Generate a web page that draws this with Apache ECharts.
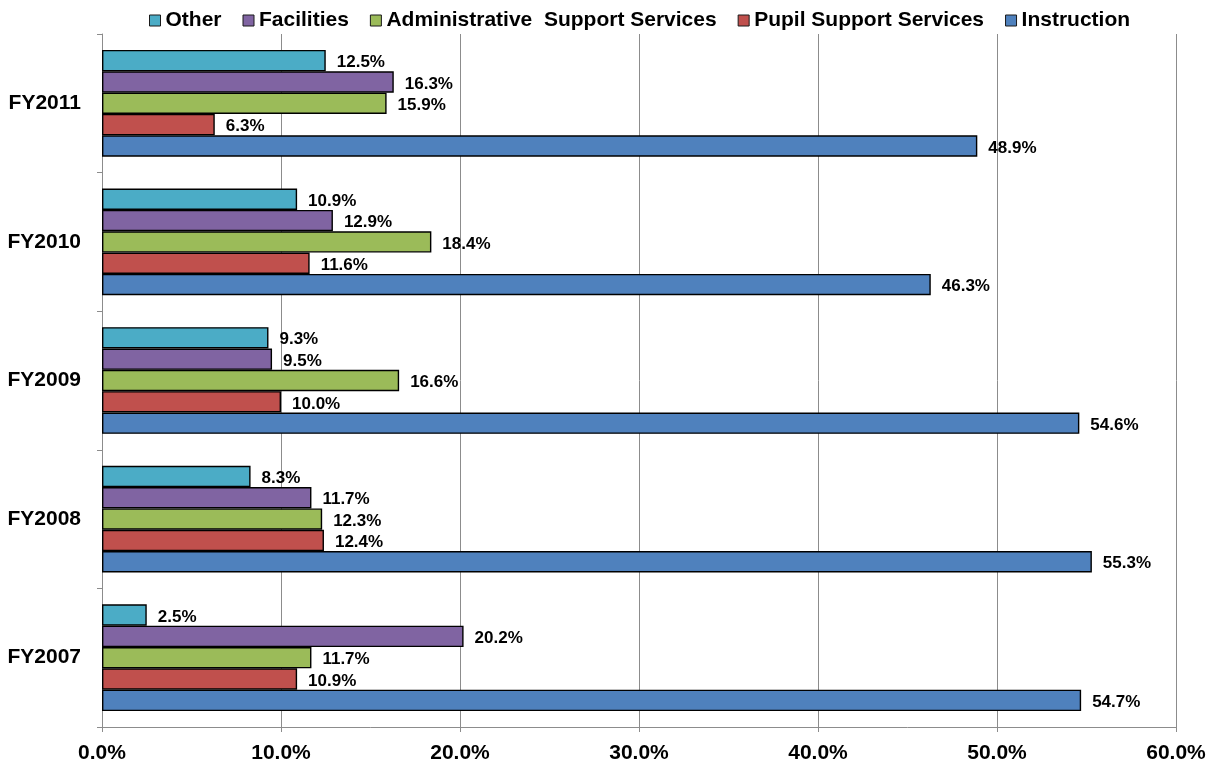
<!DOCTYPE html>
<html>
<head>
<meta charset="utf-8">
<script src="https://cdn.jsdelivr.net/npm/echarts@6/dist/echarts.min.js"></script>
<style>
  html, body { margin: 0; padding: 0; background: #fff; }
  #chart { width: 1217px; height: 769px; }
</style>
</head>
<body>
<div id="chart"></div>
<script>
// Fiscal years, listed bottom to top on the category axis
const years = ['FY2007', 'FY2008', 'FY2009', 'FY2010', 'FY2011'];

// Share of spending per function (%), one value per fiscal year
const other          = [2.5, 8.3, 9.3, 10.9, 12.5];
const facilities     = [20.2, 11.7, 9.5, 12.9, 16.3];
const adminSupport   = [11.7, 12.3, 16.6, 18.4, 15.9];
const pupilSupport   = [10.9, 12.4, 10.0, 11.6, 6.3];
const instruction    = [54.7, 55.3, 54.6, 46.3, 48.9];

// Series listed top to bottom within each year group
const seriesNames = ['Other', 'Facilities', 'Administrative  Support Services', 'Pupil Support Services', 'Instruction'];
const seriesData  = [other, facilities, adminSupport, pupilSupport, instruction];
const seriesColors = ['#4BACC6', '#8064A2', '#9BBB59', '#C0504D', '#4F81BD'];

const FONT = '"Liberation Sans", Arial, sans-serif';

const chart = echarts.init(document.getElementById('chart'), null, { renderer: 'canvas' });

chart.setOption({
  animation: false,
  backgroundColor: '#ffffff',
  textStyle: { fontFamily: FONT },
  legend: {
    data: seriesNames,
    top: 5,
    left: 144,
    itemWidth: 11,
    itemHeight: 11,
    itemGap: 21,
    icon: 'rect',
    itemStyle: { borderColor: '#1a1a1a', borderWidth: 1 },
    textStyle: { fontFamily: FONT, fontSize: 21, fontWeight: 'bold', color: '#000' }
  },
  grid: { left: 102, right: 41, top: 34, bottom: 42, containLabel: false },
  xAxis: {
    type: 'value',
    min: 0,
    max: 60,
    interval: 10,
    axisLine: { show: true, lineStyle: { color: '#8c8c8c', width: 1 } },
    axisTick: { show: true, length: 5, lineStyle: { color: '#8c8c8c' } },
    splitLine: { show: true, lineStyle: { color: '#8c8c8c', width: 1 } },
    axisLabel: {
      formatter: v => v.toFixed(1) + '%',
      margin: 16,
      fontFamily: FONT, fontSize: 21, fontWeight: 'bold', color: '#000'
    }
  },
  yAxis: {
    type: 'category',
    data: years,
    axisLine: { show: true, lineStyle: { color: '#8c8c8c', width: 1 } },
    axisTick: { show: true, length: 5, lineStyle: { color: '#8c8c8c' } },
    axisLabel: {
      margin: 21,
      fontFamily: FONT, fontSize: 21, fontWeight: 'bold', color: '#000'
    }
  },
  series: seriesNames.map((name, i) => ({
    name: name,
    type: 'bar',
    data: seriesData[i],
    barGap: '0%',
    barCategoryGap: '23%',
    itemStyle: { color: seriesColors[i], borderColor: '#000', borderWidth: 1.4 },
    label: {
      show: true,
      position: 'right',
      distance: 11,
      offset: [0, 2],
      formatter: p => p.value.toFixed(1) + '%',
      fontFamily: FONT, fontSize: 17, fontWeight: 'bold', color: '#000'
    }
  }))
});
</script>
</body>
</html>
